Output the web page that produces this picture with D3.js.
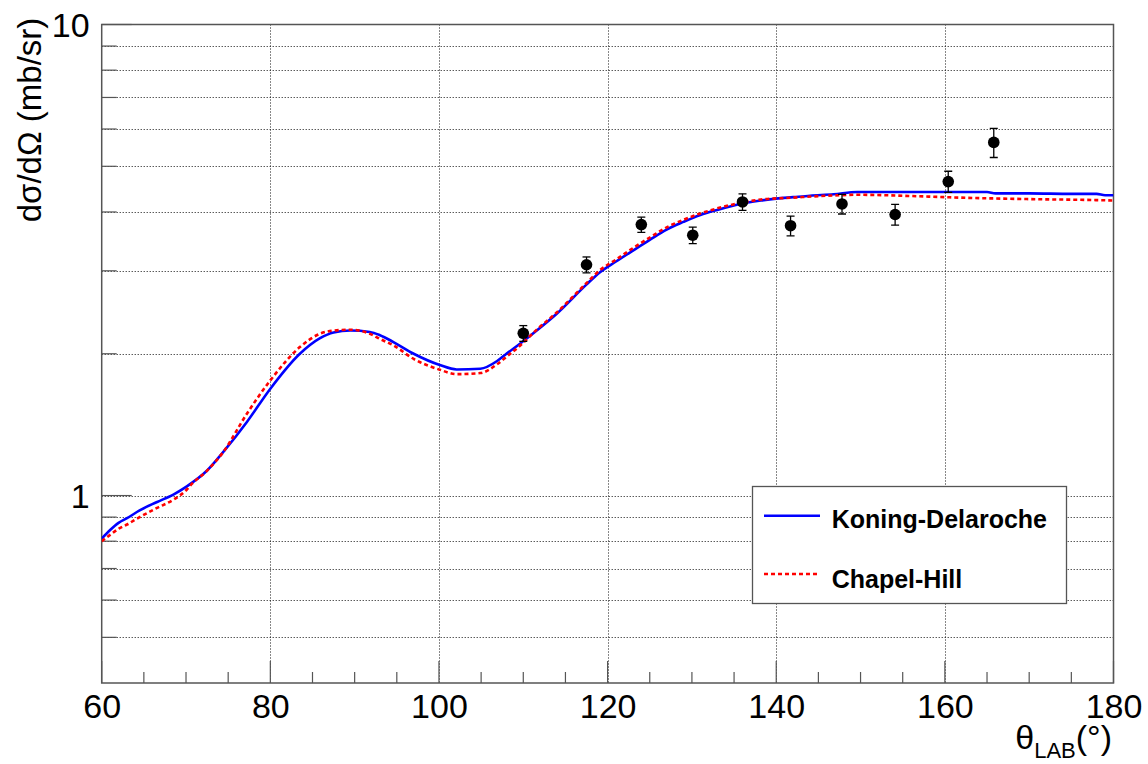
<!DOCTYPE html>
<html>
<head>
<meta charset="utf-8">
<script src="https://cdn.jsdelivr.net/npm/d3@7"></script>
<style>
  html, body { margin: 0; padding: 0; background: #fff; }
  svg { display: block; }
  text { font-family: "Liberation Sans", Arial, Helvetica, sans-serif; }
</style>
</head>
<body>
<svg id="chart" width="1148" height="764"></svg>
<script>
// ---------------- data ----------------
const kdTheta = [60, 61, 62, 63, 64.5, 66.5, 68.5, 70.1, 72.5, 74.4, 77.2, 80, 83.5, 85.9, 87.5, 89.5, 91.8, 93, 94.6, 97, 100.1, 102.1, 104.9, 106.9, 108, 109.6, 111.6, 114, 117.45, 119.1, 121, 123.1, 125, 127, 129, 131, 133, 136, 138.2, 140, 142, 144, 146.8, 149.6, 155, 160, 165, 166, 170, 175, 178, 179, 180];
const kdValue = [0.81, 0.845, 0.875, 0.895, 0.93, 0.968, 1.005, 1.046, 1.13, 1.236, 1.431, 1.686, 2.0, 2.159, 2.22, 2.241, 2.225, 2.19, 2.118, 2.0, 1.893, 1.852, 1.858, 1.93, 2.0, 2.1, 2.24, 2.434, 2.8, 2.98, 3.14, 3.32, 3.49, 3.67, 3.81, 3.94, 4.04, 4.17, 4.23, 4.27, 4.30, 4.33, 4.36, 4.41, 4.41, 4.41, 4.41, 4.38, 4.38, 4.37, 4.37, 4.34, 4.34];

const chTheta = [60, 61, 62, 63, 64.5, 66.5, 68.5, 70.1, 70.5, 72.5, 74.4, 77.2, 80, 83.5, 85.9, 87.5, 89.5, 91.8, 93, 94.6, 97, 100.1, 102.1, 104.9, 106.9, 108, 109.6, 111.6, 114, 117.45, 119.1, 121, 123.1, 125, 127, 129, 131, 133, 136, 138.2, 142, 146, 149.6, 156.7, 161.8, 169.7, 177.6, 180];
const chValue = [0.8, 0.825, 0.85, 0.868, 0.9, 0.94, 0.98, 1.03, 1.05, 1.13, 1.236, 1.49, 1.756, 2.066, 2.206, 2.24, 2.249, 2.206, 2.15, 2.084, 1.95, 1.85, 1.81, 1.82, 1.9, 1.97, 2.08, 2.25, 2.45, 2.82, 3.01, 3.17, 3.36, 3.53, 3.71, 3.85, 3.97, 4.07, 4.19, 4.25, 4.29, 4.33, 4.35, 4.32, 4.29, 4.26, 4.24, 4.23];

const expTheta = [110.0, 117.5, 124.0, 130.1, 136.0, 141.7, 147.8, 154.1, 160.4, 165.8];
const expValue = [2.21, 3.09, 3.76, 3.57, 4.20, 3.74, 4.16, 3.95, 4.64, 5.62];
const expError = [0.085, 0.12, 0.14, 0.145, 0.17, 0.18, 0.2, 0.2, 0.24, 0.4];

const xMajorTicks = [60, 80, 100, 120, 140, 160, 180];
const yLabelTicks = [1, 10];
const yMinorTicks = [0.5, 0.6, 0.7, 0.8, 0.9, 2, 3, 4, 5, 6, 7, 8, 9];
const seriesNames = ["Koning-Delaroche", "Chapel-Hill"];

// ---------------- layout ----------------
const svg = d3.select("#chart");
const L = 101.7, R = 1113.5, T = 24.5, B = 683;
const x = d3.scaleLinear().domain([60, 180]).range([L, R]);
const y = d3.scaleLog().domain([0.4, 10]).range([B, T]);

const axisColor = "#555";
const gridG = svg.append("g");

// grid
const xGrid = xMajorTicks.filter(v => v > 60 && v < 180);
gridG.selectAll("line.gx").data(xGrid).join("line")
  .attr("x1", d => Math.round(x(d)) + 0.5).attr("x2", d => Math.round(x(d)) + 0.5)
  .attr("y1", T).attr("y2", B)
  .attr("stroke", "#111").attr("stroke-width", 1).attr("stroke-dasharray", "1,2");
const yGrid = yMinorTicks.concat([1]);
gridG.selectAll("line.gy").data(yGrid).join("line")
  .attr("x1", L).attr("x2", R)
  .attr("y1", d => Math.round(y(d)) + 0.5).attr("y2", d => Math.round(y(d)) + 0.5)
  .attr("stroke", "#111").attr("stroke-width", 1).attr("stroke-dasharray", "1,2");

// ticks
const tickG = svg.append("g").attr("stroke", axisColor).attr("stroke-width", 1.2);
const xMinor = d3.range(60, 180.01, 5);
tickG.selectAll("line.xt").data(xMinor).join("line")
  .attr("x1", d => x(d)).attr("x2", d => x(d))
  .attr("y1", B).attr("y2", d => B - (d % 20 === 0 ? 22 : 11));
tickG.selectAll("line.ym").data(yMinorTicks).join("line")
  .attr("x1", L).attr("x2", L + 15)
  .attr("y1", d => y(d)).attr("y2", d => y(d));
tickG.selectAll("line.yM").data(yLabelTicks).join("line")
  .attr("x1", L).attr("x2", L + 30)
  .attr("y1", d => y(d)).attr("y2", d => y(d));

// frame
svg.append("rect").attr("x", L).attr("y", T).attr("width", R - L).attr("height", B - T)
  .attr("fill", "none").attr("stroke", axisColor).attr("stroke-width", 1.5);

// axis labels via d3 axes (ticks hidden)
const xAxis = d3.axisBottom(x).tickValues(xMajorTicks).tickSize(0).tickPadding(0).tickFormat(d3.format("d"));
const gx = svg.append("g").attr("transform", `translate(0,${B})`).call(xAxis);
gx.select(".domain").remove();
gx.selectAll("text").attr("font-size", 34).attr("fill", "#000").attr("dy", null).attr("y", 35);

const yAxis = d3.axisLeft(y).tickValues(yLabelTicks).tickSize(0).tickPadding(12).tickFormat(d3.format("d"));
const gy = svg.append("g").attr("transform", `translate(${L},0)`).call(yAxis);
gy.select(".domain").remove();
gy.selectAll("text").attr("font-size", 34).attr("fill", "#000").attr("dy", "0.35em");

// curves
svg.append("clipPath").attr("id", "clip").append("rect")
  .attr("x", L).attr("y", T).attr("width", R - L).attr("height", B - T);
const line = d3.line().x(d => x(d[0])).y(d => y(d[1])).curve(d3.curveMonotoneX);
const plotG = svg.append("g").attr("clip-path", "url(#clip)");

plotG.append("path").datum(kdTheta.map((t, i) => [t, kdValue[i]]))
  .attr("d", line).attr("fill", "none").attr("stroke", "#0000ff").attr("stroke-width", 2.6);
plotG.append("path").datum(chTheta.map((t, i) => [t, chValue[i]]))
  .attr("d", line).attr("fill", "none").attr("stroke", "#ff0000").attr("stroke-width", 2.6)
  .attr("stroke-dasharray", "4,3");

// data points
const pts = expTheta.map((t, i) => ({ t, v: expValue[i], e: expError[i] }));
const ptG = plotG.append("g").attr("stroke", "#000").attr("stroke-width", 1.3);
ptG.selectAll("line.eb").data(pts).join("line")
  .attr("x1", d => x(d.t)).attr("x2", d => x(d.t))
  .attr("y1", d => y(d.v + d.e)).attr("y2", d => y(d.v - d.e));
ptG.selectAll("line.ct").data(pts).join("line")
  .attr("x1", d => x(d.t) - 4).attr("x2", d => x(d.t) + 4)
  .attr("y1", d => y(d.v + d.e)).attr("y2", d => y(d.v + d.e));
ptG.selectAll("line.cb").data(pts).join("line")
  .attr("x1", d => x(d.t) - 4).attr("x2", d => x(d.t) + 4)
  .attr("y1", d => y(d.v - d.e)).attr("y2", d => y(d.v - d.e));
plotG.selectAll("circle.pt").data(pts).join("circle")
  .attr("cx", d => x(d.t)).attr("cy", d => y(d.v)).attr("r", 5.8).attr("fill", "#000");

// legend
const lg = svg.append("g");
lg.append("rect").attr("x", 752.5).attr("y", 486.5).attr("width", 314).attr("height", 117)
  .attr("fill", "#fff").attr("stroke", axisColor).attr("stroke-width", 1.3);
lg.append("line").attr("x1", 764).attr("x2", 820).attr("y1", 515.7).attr("y2", 515.7)
  .attr("stroke", "#0000ff").attr("stroke-width", 2.6);
lg.append("line").attr("x1", 764).attr("x2", 818).attr("y1", 574).attr("y2", 574)
  .attr("stroke", "#ff0000").attr("stroke-width", 2.6).attr("stroke-dasharray", "4,3");
lg.append("text").attr("x", 831.7).attr("y", 528).attr("font-size", 25).attr("font-weight", "bold")
  .text(seriesNames[0]);
lg.append("text").attr("x", 831.7).attr("y", 588.3).attr("font-size", 25).attr("font-weight", "bold")
  .text(seriesNames[1]);

// axis titles
const xt = svg.append("text").attr("text-anchor", "end").attr("x", 1112).attr("y", 749).attr("font-size", 34);
xt.append("tspan").text("θ");
xt.append("tspan").attr("font-size", 22).attr("dy", 9).text("LAB");
xt.append("tspan").attr("dy", -9).text("(°)");

svg.append("text").attr("transform", "translate(41,120) rotate(-90)")
  .attr("text-anchor", "middle").attr("font-size", 33).text("dσ/dΩ (mb/sr)");
</script>
</body>
</html>
